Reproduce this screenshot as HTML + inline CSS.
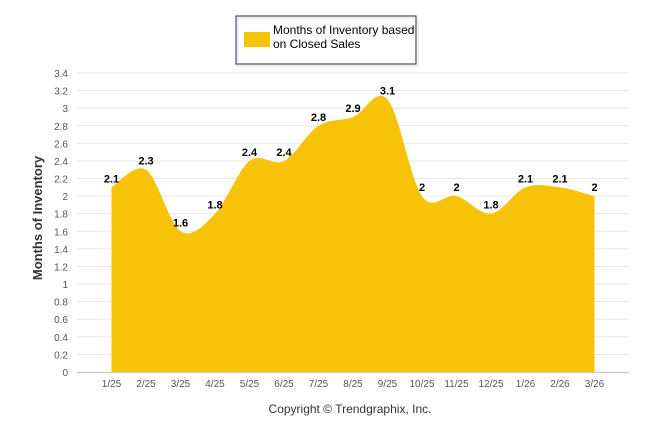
<!DOCTYPE html>
<html><head><meta charset="utf-8"><style>
body{margin:0;background:#fff;width:646px;height:434px;overflow:hidden;font-family:"Liberation Sans",sans-serif}
</style></head><body>
<svg id="c" width="646" height="434" style="position:absolute;left:0;top:0">
<rect x="236" y="16" width="180" height="48" fill="#fff" stroke="#1f2a4a" stroke-width="1"/>
<rect x="238" y="18" width="180" height="48" fill="none" stroke="#bbb" stroke-width="1" opacity="0.5"/>
<rect x="244" y="32" width="26" height="15" fill="#f7c308"/>
<text x="273" y="34" font-size="12" fill="#000">Months of Inventory based</text>
<text x="273" y="48" font-size="12" fill="#000">on Closed Sales</text>
<text transform="translate(42,218) rotate(-90)" text-anchor="middle" font-size="13" font-weight="bold" fill="#333">Months of Inventory</text>
<text x="350" y="413" text-anchor="middle" font-size="12" fill="#333">Copyright © Trendgraphix, Inc.</text>
<g id="grid"></g><g id="area"></g><g id="labels"></g>
</svg>
<script>
const categories=["1/25","2/25","3/25","4/25","5/25","6/25","7/25","8/25","9/25","10/25","11/25","12/25","1/26","2/26","3/26"];
const values=[2.1,2.3,1.6,1.8,2.4,2.4,2.8,2.9,3.1,2,2,1.8,2.1,2.1,2];
const yTicks=[0,0.2,0.4,0.6,0.8,1,1.2,1.4,1.6,1.8,2,2.2,2.4,2.6,2.8,3,3.2,3.4];
const NS="http://www.w3.org/2000/svg";
const x0=77,x1=629,y0=372,yTop=73,yMax=3.4;
const band=(x1-x0)/(categories.length+1);
const X=i=>x0+band*(i+1);
const Y=v=>y0-(v/yMax)*(y0-yTop);
const g=document.getElementById('grid'),a=document.getElementById('area'),l=document.getElementById('labels');
function mk(t,at,p){const e=document.createElementNS(NS,t);for(const k in at)e.setAttribute(k,at[k]);p.appendChild(e);return e;}
yTicks.forEach(v=>{
 const ln=mk('line',{x1:x0,x2:x1,y1:Y(v),y2:Y(v),stroke:'#e6e6e6'},g);
 
 
 const t=mk('text',{x:68,y:Y(v)+4,'text-anchor':'end','font-size':'10',fill:'#555'},g);
 t.textContent=v;
 
 
});
mk('line',{x1:x0,x2:x1,y1:y0+0.5,y2:y0+0.5,stroke:'#ccc'},g);
categories.forEach((c,i)=>{
 const t=mk('text',{x:X(i),y:387,'text-anchor':'middle','font-size':'10',fill:'#555'},g);
 t.textContent=c;
 
 
});
const pts=values.map((v,i)=>[X(i),Y(v)]);
let d=`M${pts[0][0]},${y0} L${pts[0][0]},${pts[0][1]}`;
for(let i=0;i<pts.length-1;i++){
 const p0=pts[Math.max(0,i-1)],p1=pts[i],p2=pts[i+1],p3=pts[Math.min(pts.length-1,i+2)];
 const s=1/6*1.0;
 d+=` C${p1[0]+(p2[0]-p0[0])*s},${p1[1]+(p2[1]-p0[1])*s} ${p2[0]-(p3[0]-p1[0])*s},${p2[1]-(p3[1]-p1[1])*s} ${p2[0]},${p2[1]}`;
}
d+=` L${pts[pts.length-1][0]},${y0} Z`;
const ar=mk('path',{d:d,fill:'#f7c308'},a);


values.forEach((v,i)=>{
 const t=mk('text',{x:X(i),y:Y(v)-5,'text-anchor':'middle','font-size':'11','font-weight':'bold',fill:'#000'},l);
 t.textContent=v;
 
 
});
</script>
</body></html>
